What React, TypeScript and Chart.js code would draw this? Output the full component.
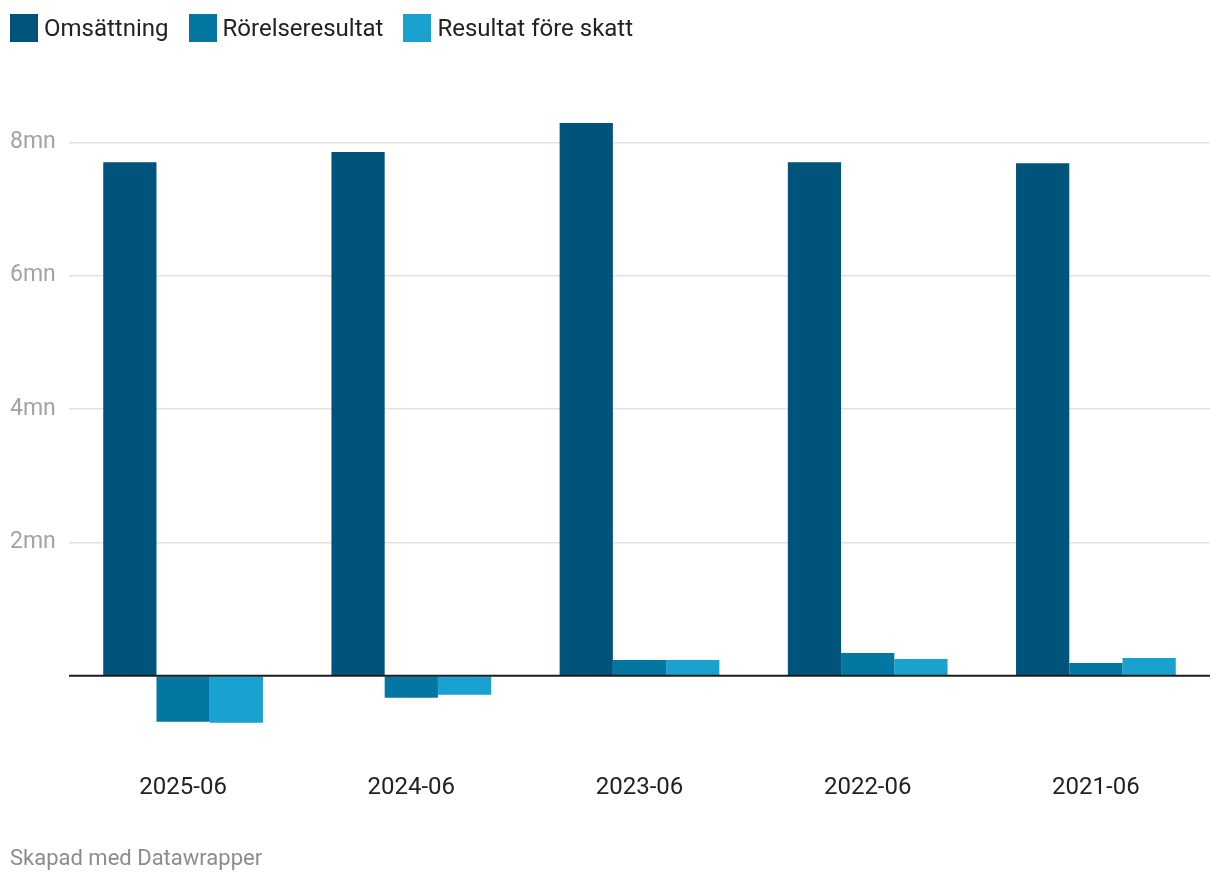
import React, { useEffect, useRef } from "react";
import { Chart, registerables } from "chart.js";

Chart.register(...registerables);

const categories = ["2025-06", "2024-06", "2023-06", "2022-06", "2021-06"];
const seriesNames = ["Omsättning", "Rörelseresultat", "Resultat före skatt"];
const omsattning = [7.7, 7.855, 8.29, 7.7, 7.685];
const rorelseresultat = [-0.69, -0.33, 0.235, 0.34, 0.19];
const resultatForeSkatt = [-0.705, -0.285, 0.235, 0.25, 0.265];
const seriesColors = ["#00537a", "#0377a1", "#19a2cf"];
const yTicks = [0, 2, 4, 6, 8];
const yMin = -1;
const yMax = 9;
const footerText = "Skapad med Datawrapper";

const FONT = "Roboto, 'Noto Sans', sans-serif";

const baselinePlugin = {
  id: "baseline",
  afterDatasetsDraw(chart: any) {
    const y = chart.scales.y.getPixelForValue(0);
    const ctx = chart.ctx;
    ctx.save();
    ctx.strokeStyle = "#1d1d1d";
    ctx.lineWidth = 2;
    ctx.beginPath();
    ctx.moveTo(chart.chartArea.left, y);
    ctx.lineTo(chart.chartArea.right, y);
    ctx.stroke();
    ctx.restore();
  },
};

export default function App() {
  const canvasRef = useRef<HTMLCanvasElement | null>(null);

  useEffect(() => {
    if (!canvasRef.current) return;
    const values = [omsattning, rorelseresultat, resultatForeSkatt];
    const chart = new Chart(canvasRef.current, {
      type: "bar",
      data: {
        labels: categories,
        datasets: seriesNames.map((name, i) => ({
          label: name,
          data: values[i],
          backgroundColor: seriesColors[i],
          borderWidth: 0,
          categoryPercentage: 0.7,
          barPercentage: 1,
        })),
      },
      plugins: [baselinePlugin],
      options: {
        responsive: false,
        animation: false,
        devicePixelRatio: 1,
        layout: { padding: { left: 10, right: 10, top: 75.6, bottom: 79.6 } },
        plugins: {
          legend: { display: false },
          tooltip: { enabled: false },
        },
        scales: {
          x: {
            grid: { display: false, drawTicks: false },
            border: { display: false },
            ticks: {
              color: "#222222",
              font: { family: FONT, size: 24 },
              padding: 31,
              maxRotation: 0,
            },
            afterFit: (scale: any) => {
              scale.height = 60;
            },
          },
          y: {
            min: yMin,
            max: yMax,
            afterBuildTicks: (scale: any) => {
              scale.ticks = yTicks.map((v) => ({ value: v }));
            },
            afterFit: (scale: any) => {
              scale.width = 59;
            },
            grid: {
              drawTicks: false,
              color: (ctx: any) => (ctx.tick && ctx.tick.value === 0 ? "rgba(0,0,0,0)" : "#e2e2e2"),
              lineWidth: 1.5,
            },
            border: { display: false },
            ticks: {
              crossAlign: "far",
              color: "#a3a3a3",
              font: { family: FONT, size: 23 },
              callback: (v: any) => (Number(v) === 0 ? "" : `${v}mn`),
            },
          },
        },
      },
    });
    return () => chart.destroy();
  }, []);

  return (
    <div
      style={{
        position: "fixed",
        left: 0,
        top: 0,
        width: 1220,
        height: 882,
        background: "#ffffff",
        fontFamily: FONT,
      }}
    >
      <canvas ref={canvasRef} width={1220} height={882} style={{ position: "absolute", left: 0, top: 0 }} />
      <div
        style={{
          position: "absolute",
          left: 10,
          top: 14,
          display: "flex",
          alignItems: "center",
          height: 28,
        }}
      >
        {seriesNames.map((name, i) => (
          <div key={name} style={{ display: "flex", alignItems: "center", marginRight: 20 }}>
            <span
              style={{
                display: "inline-block",
                width: 28,
                height: 28,
                background: seriesColors[i],
                marginRight: 6,
              }}
            />
            <span style={{ fontSize: 24, color: "#222222", lineHeight: "28px" }}>{name}</span>
          </div>
        ))}
      </div>
      <div
        style={{
          position: "absolute",
          left: 10,
          top: 845,
          fontSize: 22,
          color: "#8c8c8c",
          lineHeight: "26px",
        }}
      >
        {footerText}
      </div>
    </div>
  );
}
